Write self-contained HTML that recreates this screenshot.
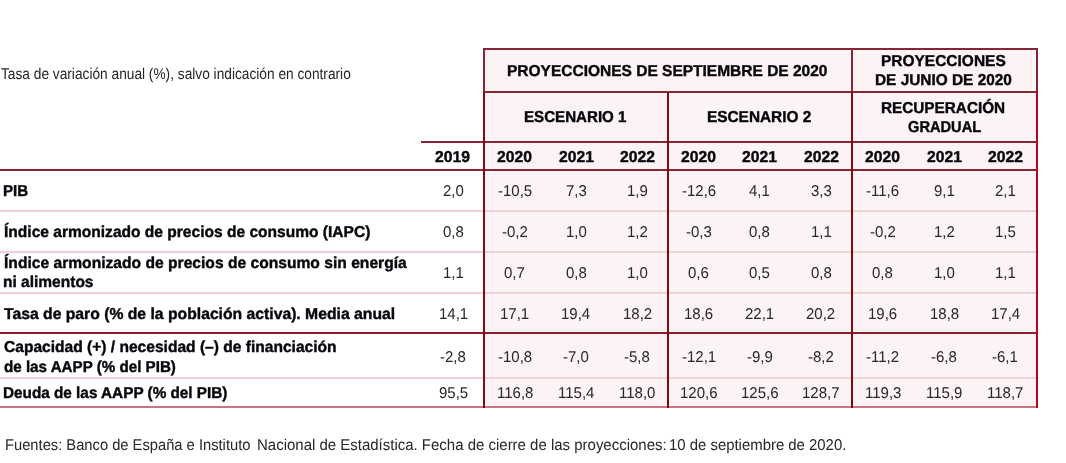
<!DOCTYPE html>
<html lang="es"><head><meta charset="utf-8"><title>Proyecciones</title>
<style>
html,body{margin:0;padding:0;background:#fff;}
body{width:1066px;height:463px;position:relative;overflow:hidden;font-family:"Liberation Sans",Arial,Helvetica,sans-serif;color:#111;text-rendering:geometricPrecision;}
.abs{position:absolute;}
.bg{position:absolute;background:#fdf2f4;}
.dl{position:absolute;background:#852536;}
.vl{position:absolute;background:#800a10;}
.pl{position:absolute;background:#eed2d7;}
.t{position:absolute;white-space:nowrap;line-height:20px;height:20px;transform-origin:0 0;}
.lab,.h{font-weight:bold;font-size:15.8px;color:#06060c;-webkit-text-stroke:0.4px #06060c;}
.v,.n{font-size:15.6px;color:#26262c;}
</style></head><body>

<div class="bg" style="left:484px;top:49px;width:553px;height:358px"></div>
<div class="pl" style="left:0;top:210px;width:1036px;height:2px"></div>
<div class="pl" style="left:0;top:251px;width:1036px;height:2px"></div>
<div class="pl" style="left:0;top:292px;width:1036px;height:2px"></div>
<div class="pl" style="left:0;top:377px;width:1036px;height:2px"></div>
<div class="dl" style="left:483px;top:48px;width:555px;height:2px"></div>
<div class="dl" style="left:483px;top:91px;width:555px;height:2px"></div>
<div class="dl" style="left:421px;top:141px;width:617px;height:2px"></div>
<div class="dl" style="left:0;top:169px;width:1038px;height:2px"></div>
<div class="dl" style="left:0;top:332px;width:1038px;height:2px;background:#8f1c2f"></div>
<div class="abs" style="left:0;top:406px;width:1038px;height:2px;background:#cc7580"></div>
<div class="vl" style="left:483px;top:92px;width:2px;height:316px"></div>
<div class="vl" style="left:667px;top:92px;width:2px;height:316px"></div>
<div class="vl" style="left:851px;top:92px;width:2px;height:316px"></div>
<div class="abs" style="left:1036px;top:92px;width:2px;height:316px;background:#b0061f"></div>
<div class="dl" style="left:483px;top:48px;width:2px;height:44px"></div>
<div class="dl" style="left:851px;top:48px;width:2px;height:44px"></div>
<div class="dl" style="left:1036px;top:48px;width:2px;height:44px"></div>
<div class="t n" style="left:1.10px;top:65px;transform:scaleX(0.8792)">Tasa de variación anual (%), salvo indicación en contrario</div>
<div class="t h" style="left:507.22px;top:62px;transform:scaleX(0.9814)">PROYECCIONES DE SEPTIEMBRE DE 2020</div>
<div class="t h" style="left:880.82px;top:52px;transform:scaleX(0.9798)">PROYECCIONES</div>
<div class="t h" style="left:874.93px;top:71px;transform:scaleX(0.9743)">DE JUNIO DE 2020</div>
<div class="t h" style="left:523.54px;top:108px;transform:scaleX(0.9567)">ESCENARIO 1</div>
<div class="t h" style="left:706.53px;top:108px;transform:scaleX(0.9736)">ESCENARIO 2</div>
<div class="t h" style="left:881.23px;top:99px;transform:scaleX(0.9690)">RECUPERACIÓN</div>
<div class="t h" style="left:907.70px;top:118px;transform:scaleX(0.9265)">GRADUAL</div>
<div class="t h" style="left:435.34px;top:148px;transform:scaleX(0.9937)">2019</div>
<div class="t h" style="left:497.44px;top:148px;transform:scaleX(0.9937)">2020</div>
<div class="t h" style="left:558.54px;top:148px;transform:scaleX(0.9937)">2021</div>
<div class="t h" style="left:619.74px;top:148px;transform:scaleX(0.9937)">2022</div>
<div class="t h" style="left:681.24px;top:148px;transform:scaleX(0.9937)">2020</div>
<div class="t h" style="left:742.44px;top:148px;transform:scaleX(0.9937)">2021</div>
<div class="t h" style="left:803.54px;top:148px;transform:scaleX(0.9937)">2022</div>
<div class="t h" style="left:865.24px;top:148px;transform:scaleX(0.9937)">2020</div>
<div class="t h" style="left:926.74px;top:148px;transform:scaleX(0.9937)">2021</div>
<div class="t h" style="left:987.84px;top:148px;transform:scaleX(0.9937)">2022</div>
<div class="t lab" style="left:3.35px;top:182px;transform:scaleX(0.9549)">PIB</div>
<div class="t v" style="left:442.98px;top:182px;transform:scaleX(0.9615)">2,0</div>
<div class="t v" style="left:497.81px;top:182px;transform:scaleX(0.9615)">-10,5</div>
<div class="t v" style="left:565.58px;top:182px;transform:scaleX(0.9615)">7,3</div>
<div class="t v" style="left:626.78px;top:182px;transform:scaleX(0.9615)">1,9</div>
<div class="t v" style="left:681.61px;top:182px;transform:scaleX(0.9615)">-12,6</div>
<div class="t v" style="left:749.48px;top:182px;transform:scaleX(0.9615)">4,1</div>
<div class="t v" style="left:810.58px;top:182px;transform:scaleX(0.9615)">3,3</div>
<div class="t v" style="left:866.17px;top:182px;transform:scaleX(0.9615)">-11,6</div>
<div class="t v" style="left:933.78px;top:182px;transform:scaleX(0.9615)">9,1</div>
<div class="t v" style="left:994.88px;top:182px;transform:scaleX(0.9615)">2,1</div>
<div class="t lab" style="left:4.30px;top:223px;transform:scaleX(0.9844)">Índice armonizado de precios de consumo (IAPC)</div>
<div class="t v" style="left:442.98px;top:223px;transform:scaleX(0.9615)">0,8</div>
<div class="t v" style="left:501.98px;top:223px;transform:scaleX(0.9615)">-0,2</div>
<div class="t v" style="left:565.58px;top:223px;transform:scaleX(0.9615)">1,0</div>
<div class="t v" style="left:626.78px;top:223px;transform:scaleX(0.9615)">1,2</div>
<div class="t v" style="left:685.78px;top:223px;transform:scaleX(0.9615)">-0,3</div>
<div class="t v" style="left:749.48px;top:223px;transform:scaleX(0.9615)">0,8</div>
<div class="t v" style="left:810.58px;top:223px;transform:scaleX(0.9615)">1,1</div>
<div class="t v" style="left:869.78px;top:223px;transform:scaleX(0.9615)">-0,2</div>
<div class="t v" style="left:933.78px;top:223px;transform:scaleX(0.9615)">1,2</div>
<div class="t v" style="left:994.88px;top:223px;transform:scaleX(0.9615)">1,5</div>
<div class="t lab" style="left:4.30px;top:254px;transform:scaleX(0.9887)">Índice armonizado de precios de consumo sin energía</div>
<div class="t lab" style="left:3.32px;top:273px;transform:scaleX(0.9816)">ni alimentos</div>
<div class="t v" style="left:442.98px;top:264px;transform:scaleX(0.9615)">1,1</div>
<div class="t v" style="left:504.48px;top:264px;transform:scaleX(0.9615)">0,7</div>
<div class="t v" style="left:565.58px;top:264px;transform:scaleX(0.9615)">0,8</div>
<div class="t v" style="left:626.78px;top:264px;transform:scaleX(0.9615)">1,0</div>
<div class="t v" style="left:688.28px;top:264px;transform:scaleX(0.9615)">0,6</div>
<div class="t v" style="left:749.48px;top:264px;transform:scaleX(0.9615)">0,5</div>
<div class="t v" style="left:810.58px;top:264px;transform:scaleX(0.9615)">0,8</div>
<div class="t v" style="left:872.28px;top:264px;transform:scaleX(0.9615)">0,8</div>
<div class="t v" style="left:933.78px;top:264px;transform:scaleX(0.9615)">1,0</div>
<div class="t v" style="left:994.88px;top:264px;transform:scaleX(0.9615)">1,1</div>
<div class="t lab" style="left:4.30px;top:305px;transform:scaleX(0.9952)">Tasa de paro (% de la población activa). Media anual</div>
<div class="t v" style="left:438.81px;top:305px;transform:scaleX(0.9615)">14,1</div>
<div class="t v" style="left:500.31px;top:305px;transform:scaleX(0.9615)">17,1</div>
<div class="t v" style="left:561.41px;top:305px;transform:scaleX(0.9615)">19,4</div>
<div class="t v" style="left:622.61px;top:305px;transform:scaleX(0.9615)">18,2</div>
<div class="t v" style="left:684.11px;top:305px;transform:scaleX(0.9615)">18,6</div>
<div class="t v" style="left:745.31px;top:305px;transform:scaleX(0.9615)">22,1</div>
<div class="t v" style="left:806.41px;top:305px;transform:scaleX(0.9615)">20,2</div>
<div class="t v" style="left:868.11px;top:305px;transform:scaleX(0.9615)">19,6</div>
<div class="t v" style="left:929.61px;top:305px;transform:scaleX(0.9615)">18,8</div>
<div class="t v" style="left:990.71px;top:305px;transform:scaleX(0.9615)">17,4</div>
<div class="t lab" style="left:4.30px;top:338px;transform:scaleX(0.9852)">Capacidad (+) / necesidad (–) de financiación</div>
<div class="t lab" style="left:4.30px;top:358px;transform:scaleX(0.9600)">de las AAPP (% del PIB)</div>
<div class="t v" style="left:440.48px;top:348px;transform:scaleX(0.9615)">-2,8</div>
<div class="t v" style="left:497.81px;top:348px;transform:scaleX(0.9615)">-10,8</div>
<div class="t v" style="left:563.08px;top:348px;transform:scaleX(0.9615)">-7,0</div>
<div class="t v" style="left:624.28px;top:348px;transform:scaleX(0.9615)">-5,8</div>
<div class="t v" style="left:681.61px;top:348px;transform:scaleX(0.9615)">-12,1</div>
<div class="t v" style="left:746.98px;top:348px;transform:scaleX(0.9615)">-9,9</div>
<div class="t v" style="left:808.08px;top:348px;transform:scaleX(0.9615)">-8,2</div>
<div class="t v" style="left:866.17px;top:348px;transform:scaleX(0.9615)">-11,2</div>
<div class="t v" style="left:931.28px;top:348px;transform:scaleX(0.9615)">-6,8</div>
<div class="t v" style="left:992.38px;top:348px;transform:scaleX(0.9615)">-6,1</div>
<div class="t lab" style="left:3.33px;top:384px;transform:scaleX(0.9686)">Deuda de las AAPP (% del PIB)</div>
<div class="t v" style="left:438.81px;top:384px;transform:scaleX(0.9615)">95,5</div>
<div class="t v" style="left:496.70px;top:384px;transform:scaleX(0.9615)">116,8</div>
<div class="t v" style="left:557.80px;top:384px;transform:scaleX(0.9615)">115,4</div>
<div class="t v" style="left:619.00px;top:384px;transform:scaleX(0.9615)">118,0</div>
<div class="t v" style="left:679.94px;top:384px;transform:scaleX(0.9615)">120,6</div>
<div class="t v" style="left:741.14px;top:384px;transform:scaleX(0.9615)">125,6</div>
<div class="t v" style="left:802.24px;top:384px;transform:scaleX(0.9615)">128,7</div>
<div class="t v" style="left:864.50px;top:384px;transform:scaleX(0.9615)">119,3</div>
<div class="t v" style="left:926.00px;top:384px;transform:scaleX(0.9615)">115,9</div>
<div class="t v" style="left:987.10px;top:384px;transform:scaleX(0.9615)">118,7</div>
<div class="t n" style="left:4.96px;top:436px;transform:scaleX(0.9437)">Fuentes: Banco de España e Instituto</div>
<div class="t n" style="left:256.74px;top:436px;transform:scaleX(0.9606)">Nacional de Estadística. Fecha de cierre de las proyecciones:</div>
<div class="t n" style="left:668.54px;top:436px;transform:scaleX(0.9558)">10 de septiembre de 2020.</div>
</body></html>
